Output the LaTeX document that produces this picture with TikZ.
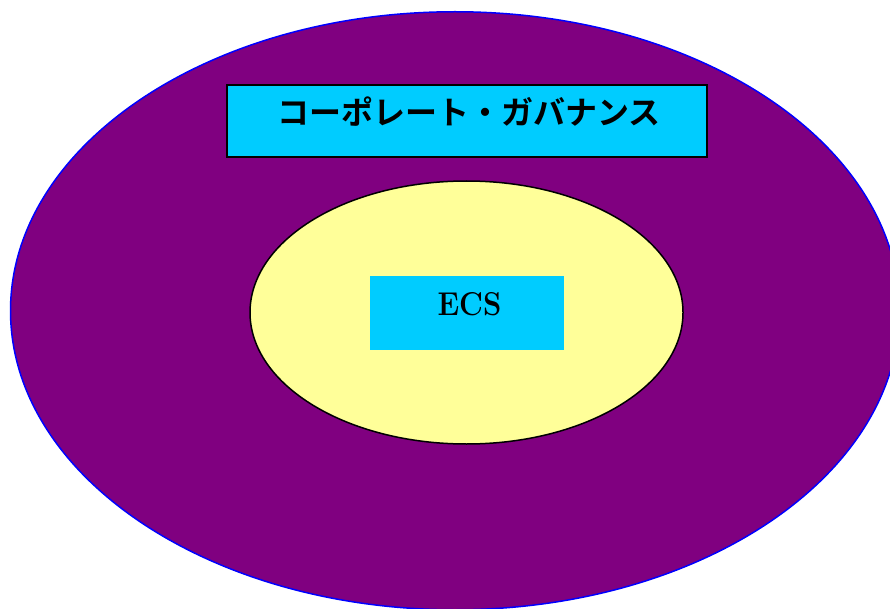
\documentclass[tikz,border=0pt]{standalone}
\usepackage{fontspec}
\newfontfamily\jpfont{Noto Sans CJK JP Bold}
\usetikzlibrary{shapes.geometric}
\definecolor{outerpurple}{RGB}{128,0,128}
\definecolor{boxcyan}{RGB}{0,204,255}
\definecolor{paleyellow}{RGB}{255,255,153}
\tikzset{
  ring/.style={ellipse, inner sep=0pt, line width=1.5pt},
  cyanbox/.style={rectangle, fill=boxcyan, inner sep=0pt},
  jplabel/.style={font=\jpfont\fontsize{32}{34}\selectfont, inner sep=0pt, anchor=center},
  ecslabel/.style={font=\bfseries\fontsize{33}{36}\selectfont, inner sep=0pt, anchor=center}
}
\begin{document}
\begin{tikzpicture}[x=1pt,y=-1pt]
\useasboundingbox (0,0) rectangle (890,609);
\node[ring, draw=blue, fill=outerpurple, minimum width=889pt, minimum height=598pt] (outer) at (455,310.75) {};
\node[ring, draw=black, fill=paleyellow, minimum width=433pt, minimum height=263pt] (inner) at (466.5,312.5) {};
\node[cyanbox, draw=black, line width=1.5pt, minimum width=480pt, minimum height=72pt] (cgbox) at (467,121) {};
\node[jplabel] (cgtext) at (469,112) {コーポレート・ガバナンス};
\node[cyanbox, minimum width=194pt, minimum height=74pt] (ecsbox) at (467,313) {};
\node[ecslabel] (ecstext) at (469.5,304.5) {\scalebox{0.89}[1]{ECS}};
\end{tikzpicture}
\end{document}
